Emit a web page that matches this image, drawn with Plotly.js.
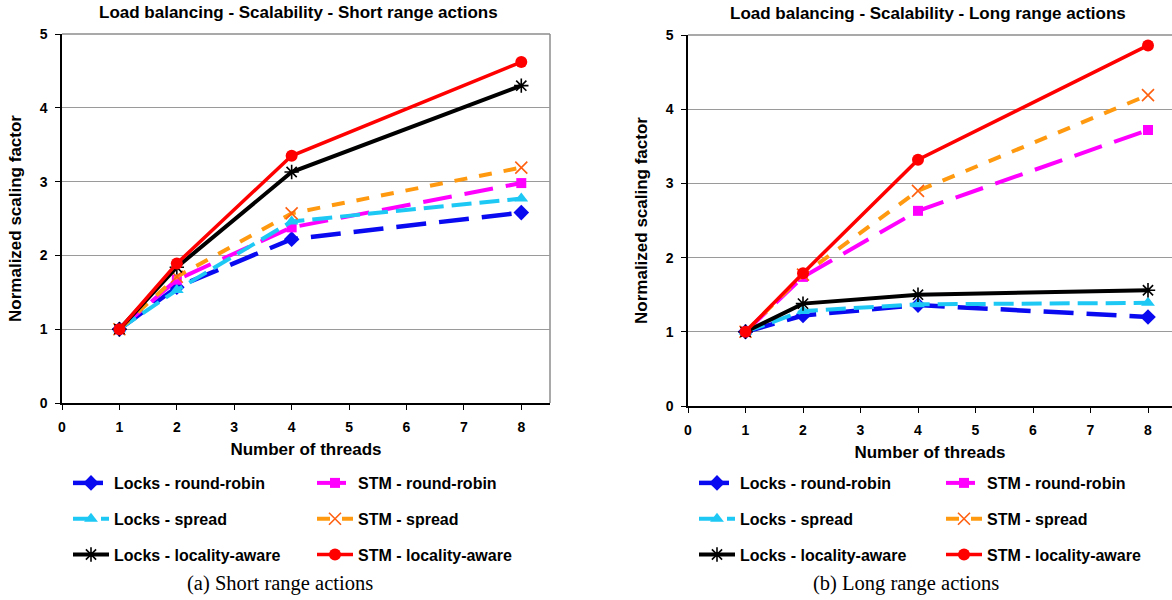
<!DOCTYPE html>
<html>
<head>
<meta charset="utf-8">
<script src="https://cdn.plot.ly/plotly-3.0.1.min.js"></script>
<style>html,body{margin:0;padding:0;background:#fff;}#chart{width:1172px;height:600px;}</style>
</head>
<body>
<div id="chart"></div>
<script>
// ---- data ----
const threads = [1, 2, 4, 8];
const xTickValues = [0, 1, 2, 3, 4, 5, 6, 7, 8];
const yTickValues = [0, 1, 2, 3, 4, 5];
const seriesNames = ["Locks - round-robin", "STM - round-robin", "Locks - spread", "STM - spread", "Locks - locality-aware", "STM - locality-aware"];

const shortLocksRR     = [1, 1.57, 2.22, 2.58];
const shortStmRR       = [1, 1.67, 2.38, 2.98];
const shortLocksSpread = [1, 1.53, 2.46, 2.77];
const shortStmSpread   = [1, 1.71, 2.57, 3.19];
const shortLocksLoc    = [1, 1.84, 3.13, 4.30];
const shortStmLoc      = [1, 1.89, 3.35, 4.62];

const longLocksRR      = [1, 1.22, 1.36, 1.20];
const longStmRR        = [1, 1.74, 2.63, 3.72];
const longLocksSpread  = [1, 1.28, 1.37, 1.39];
const longStmSpread    = [1, 1.77, 2.90, 4.19];
const longLocksLoc     = [1, 1.38, 1.50, 1.56];
const longStmLoc       = [1, 1.79, 3.32, 4.86];

const chartTitles = ["Load balancing - Scalability - Short range actions", "Load balancing - Scalability - Long range actions"];
const captions = ["(a) Short range actions", "(b) Long range actions"];
const xTitle = "Number of threads";
const yTitle = "Normalized scaling factor";

// ---- styles ----
const styles = [
  {color: "#0a0af0", dash: "30px,13px", width: 4.5, marker: {symbol: "diamond", size: 12, color: "#0a0af0"}},
  {color: "#ff00ff", dash: "29px,13px", width: 4, marker: {symbol: "square", size: 10, color: "#ff00ff"}},
  {color: "#1ec8f5", dash: "20px,8px", width: 4, marker: {symbol: "triangle-up", size: 12, color: "#1ec8f5"}},
  {color: "#ff9a10", dash: "13px,12px", width: 4, marker: {symbol: "x-thin-open", size: 12, color: "#ff6010", line: {width: 1.6, color: "#ff6010"}}},
  {color: "#000000", dash: "solid", width: 4, marker: {symbol: "asterisk-open", size: 12, color: "#000", line: {width: 1.6, color: "#000"}}},
  {color: "#ff0000", dash: "solid", width: 3.5, marker: {symbol: "circle", size: 12, color: "#ff0000"}}
];

const shortSeries = [shortLocksRR, shortStmRR, shortLocksSpread, shortStmSpread, shortLocksLoc, shortStmLoc];
const longSeries = [longLocksRR, longStmRR, longLocksSpread, longStmSpread, longLocksLoc, longStmLoc];

const traces = [];
function addTraces(series, xa, ya, legA, legB, prefix) {
  series.forEach((vals, i) => {
    const s = styles[i];
    traces.push({
      type: "scatter", mode: "lines+markers",
      x: threads, y: vals, xaxis: xa, yaxis: ya,
      name: seriesNames[i],
      legend: (i % 2 === 0) ? legA : legB,
      legendgroup: prefix + i,
      line: {color: s.color, dash: s.dash, width: s.width},
      marker: s.marker,
      hoverinfo: "x+y+name"
    });
  });
}
addTraces(shortSeries, "x", "y", "legend", "legend2", "s");
addTraces(longSeries, "x2", "y2", "legend3", "legend4", "l");

const W = 1172, H = 600;
const px = v => v / W;
const py = v => 1 - v / H;

const bold = (size, color) => ({family: "Liberation Sans, Arial, sans-serif", size: size, color: color || "#000", weight: 700});

function xAxis(domain, range, anchor) {
  return {
    domain: domain, range: range, anchor: anchor,
    tickvals: xTickValues, ticktext: xTickValues.map(String),
    ticks: "outside", ticklen: 5, tickwidth: 1, tickcolor: "#000",
    showline: true, linecolor: "#000", linewidth: 1.5,
    showgrid: false, zeroline: false, fixedrange: true,
    tickfont: bold(14), ticklabelstandoff: 5,
    title: {text: xTitle, font: bold(17), standoff: 10},
    automargin: false
  };
}
function yAxis(domain, anchor) {
  return {
    domain: domain, range: [0, 5], anchor: anchor,
    tickvals: yTickValues, ticktext: yTickValues.map(String),
    ticks: "outside", ticklen: 5, tickwidth: 1, tickcolor: "#000",
    showline: true, linecolor: "#000", linewidth: 1.5,
    showgrid: true, gridcolor: "#9a9a9a", gridwidth: 1, zeroline: false, fixedrange: true,
    tickfont: bold(14), ticklabelstandoff: 5,
    title: {text: yTitle, font: bold(17), standoff: 14},
    automargin: false
  };
}

function legendAt(xPix, yPix) {
  return {
    x: px(xPix), y: py(yPix), xanchor: "left", yanchor: "top",
    orientation: "v", bgcolor: "rgba(0,0,0,0)", borderwidth: 0,
    font: bold(16), itemwidth: 36, tracegroupgap: 12, traceorder: "grouped",
    itemclick: false, itemdoubleclick: false
  };
}

const rightXMax = (W - 688) / 57.5;

const layout = {
  width: W, height: H,
  margin: {l: 0, r: 0, t: 0, b: 0},
  paper_bgcolor: "#fff", plot_bgcolor: "#fff",
  showlegend: true,
  xaxis: xAxis([px(62), px(550)], [0, 8.5], "y"),
  yaxis: yAxis([py(403), py(34)], "x"),
  xaxis2: xAxis([px(688), 1], [0, rightXMax], "y2"),
  yaxis2: yAxis([py(406), py(35)], "x2"),
  legend: legendAt(68, 466),
  legend2: legendAt(312, 466),
  legend3: legendAt(694, 466),
  legend4: legendAt(941, 466),
  shapes: [
    {type: "line", xref: "x domain", yref: "y domain", x0: 0, x1: 1, y0: 1, y1: 1, line: {color: "#8c8c8c", width: 1.5}, layer: "below"},
    {type: "line", xref: "x domain", yref: "y domain", x0: 1, x1: 1, y0: 0, y1: 1, line: {color: "#8c8c8c", width: 1.5}, layer: "below"},
    {type: "line", xref: "x2 domain", yref: "y2 domain", x0: 0, x1: 1, y0: 1, y1: 1, line: {color: "#8c8c8c", width: 1.5}, layer: "below"}
  ],
  annotations: [
    {text: chartTitles[0], xref: "paper", yref: "paper", x: px(298), y: py(12), xanchor: "center", yanchor: "middle", showarrow: false, font: bold(17)},
    {text: chartTitles[1], xref: "paper", yref: "paper", x: px(928), y: py(13), xanchor: "center", yanchor: "middle", showarrow: false, font: bold(17)},
    {text: captions[0], xref: "paper", yref: "paper", x: px(280), y: py(583), xanchor: "center", yanchor: "middle", showarrow: false, font: {family: "Liberation Serif, Times New Roman, serif", size: 20.5, color: "#000"}},
    {text: captions[1], xref: "paper", yref: "paper", x: px(906), y: py(583), xanchor: "center", yanchor: "middle", showarrow: false, font: {family: "Liberation Serif, Times New Roman, serif", size: 20.5, color: "#000"}}
  ]
};

Plotly.newPlot("chart", traces, layout, {displayModeBar: false, staticPlot: false, responsive: false});
</script>
</body>
</html>
